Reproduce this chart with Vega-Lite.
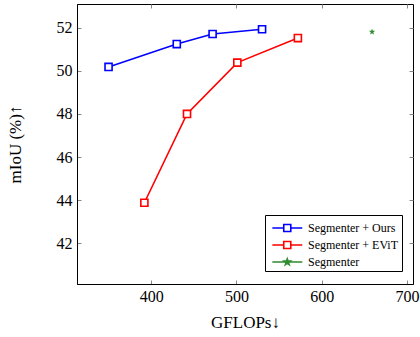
{
  "$schema": "https://vega.github.io/schema/vega-lite/v6.json",
  "width": 336,
  "height": 280,
  "autosize": "none",
  "padding": {"left": 77, "top": 4, "right": 7, "bottom": 53},
  "config": {
    "font": "Liberation Serif",
    "view": {"stroke": "black", "strokeWidth": 1},
    "axis": {
      "grid": false,
      "domainColor": "black",
      "tickColor": "#888888",
      "tickSize": -4,
      "labelFont": "Liberation Serif",
      "labelFontSize": 16,
      "labelColor": "black",
      "titleFont": "Liberation Serif",
      "titleFontSize": 17,
      "titleFontWeight": "normal",
      "titleColor": "black"
    },
    "legend": {
      "orient": "none",
      "legendX": 188,
      "legendY": 211,
      "strokeColor": "black",
      "fillColor": "white",
      "padding": 3,
      "labelFont": "Liberation Serif",
      "labelFontSize": 12,
      "labelColor": "black",
      "symbolSize": 324,
      "symbolStrokeWidth": 1.6,
      "rowPadding": 0,
      "labelOffset": 20
    }
  },
  "data": {
    "values": [
      {"series": "Segmenter + Ours", "gflops": 350, "miou": 50.18},
      {"series": "Segmenter + Ours", "gflops": 430, "miou": 51.24},
      {"series": "Segmenter + Ours", "gflops": 472, "miou": 51.71},
      {"series": "Segmenter + Ours", "gflops": 530, "miou": 51.93},
      {"series": "Segmenter + EViT", "gflops": 392, "miou": 43.88},
      {"series": "Segmenter + EViT", "gflops": 442, "miou": 48.0},
      {"series": "Segmenter + EViT", "gflops": 501, "miou": 50.38},
      {"series": "Segmenter + EViT", "gflops": 572, "miou": 51.52},
      {"series": "Segmenter", "gflops": 659, "miou": 51.81}
    ]
  },
  "resolve": {"axis": {"x": "independent", "y": "independent"}},
  "layer": [
    {
      "mark": {"type": "line", "strokeWidth": 1.6},
      "encoding": {
        "x": {"field": "gflops", "type": "quantitative", "scale": {"domain": [313, 707], "nice": false, "zero": false},
              "axis": {"values": [400, 500, 600, 700], "title": "GFLOPs↓", "labelPadding": 8, "titlePadding": 10}},
        "y": {"field": "miou", "type": "quantitative", "scale": {"domain": [40.11, 53.1], "nice": false, "zero": false},
              "axis": {"values": [42, 44, 46, 48, 50, 52], "title": "mIoU (%)↑", "labelPadding": 9, "titlePadding": 32}},
        "color": {
          "field": "series", "type": "nominal",
          "scale": {"domain": ["Segmenter + Ours", "Segmenter + EViT", "Segmenter"], "range": ["#0000ff", "#ff0000", "#2e8b2e"]},
          "legend": {
            "title": null,
            "symbolType": "M-0.63,0H0.64M1.42,0H2.7M0.64,-0.39H1.42V0.39H0.64Z",
            "encode": {
              "symbols": {
                "update": {
                  "shape": {"signal": "datum.value === 'Segmenter' ? 'M-0.63,0H2.7M1.03,-0.35L1.112,-0.113L1.363,-0.108L1.163,0.043L1.236,0.283L1.03,0.14L0.824,0.283L0.897,0.043L0.697,-0.108L0.948,-0.113Z' : 'M-0.63,0H0.64M1.42,0H2.7M0.64,-0.39H1.42V0.39H0.64Z'"},
                  "fillOpacity": {"signal": "datum.value === 'Segmenter' ? 1 : 0"}
                }
              }
            }
          }
        }
      }
    },
    {
      "transform": [{"filter": "datum.series !== 'Segmenter'"}],
      "mark": {"type": "point", "shape": "square", "size": 50, "filled": false, "strokeWidth": 1.6, "fill": "white", "fillOpacity": 1, "opacity": 1},
      "encoding": {
        "x": {"field": "gflops", "type": "quantitative", "axis": null},
        "y": {"field": "miou", "type": "quantitative", "axis": null},
        "color": {"field": "series", "type": "nominal", "legend": null}
      }
    },
    {
      "transform": [{"filter": "datum.series === 'Segmenter'"}],
      "mark": {"type": "point", "shape": "M0,-1L0.235,-0.324L0.951,-0.309L0.38,0.124L0.588,0.809L0,0.4L-0.588,0.809L-0.38,0.124L-0.951,-0.309L-0.235,-0.324Z", "size": 45, "filled": true, "opacity": 1},
      "encoding": {
        "x": {"field": "gflops", "type": "quantitative", "axis": null},
        "y": {"field": "miou", "type": "quantitative", "axis": null},
        "color": {"field": "series", "type": "nominal", "legend": null}
      }
    },
    {
      "mark": {"type": "point", "opacity": 0},
      "encoding": {
        "x": {"field": "gflops", "type": "quantitative", "axis": {"orient": "top", "values": [400, 500, 600, 700], "labels": false, "title": null, "domain": false}},
        "y": {"field": "miou", "type": "quantitative", "axis": {"orient": "right", "values": [42, 44, 46, 48, 50, 52], "labels": false, "title": null, "domain": false}}
      }
    }
  ]
}
